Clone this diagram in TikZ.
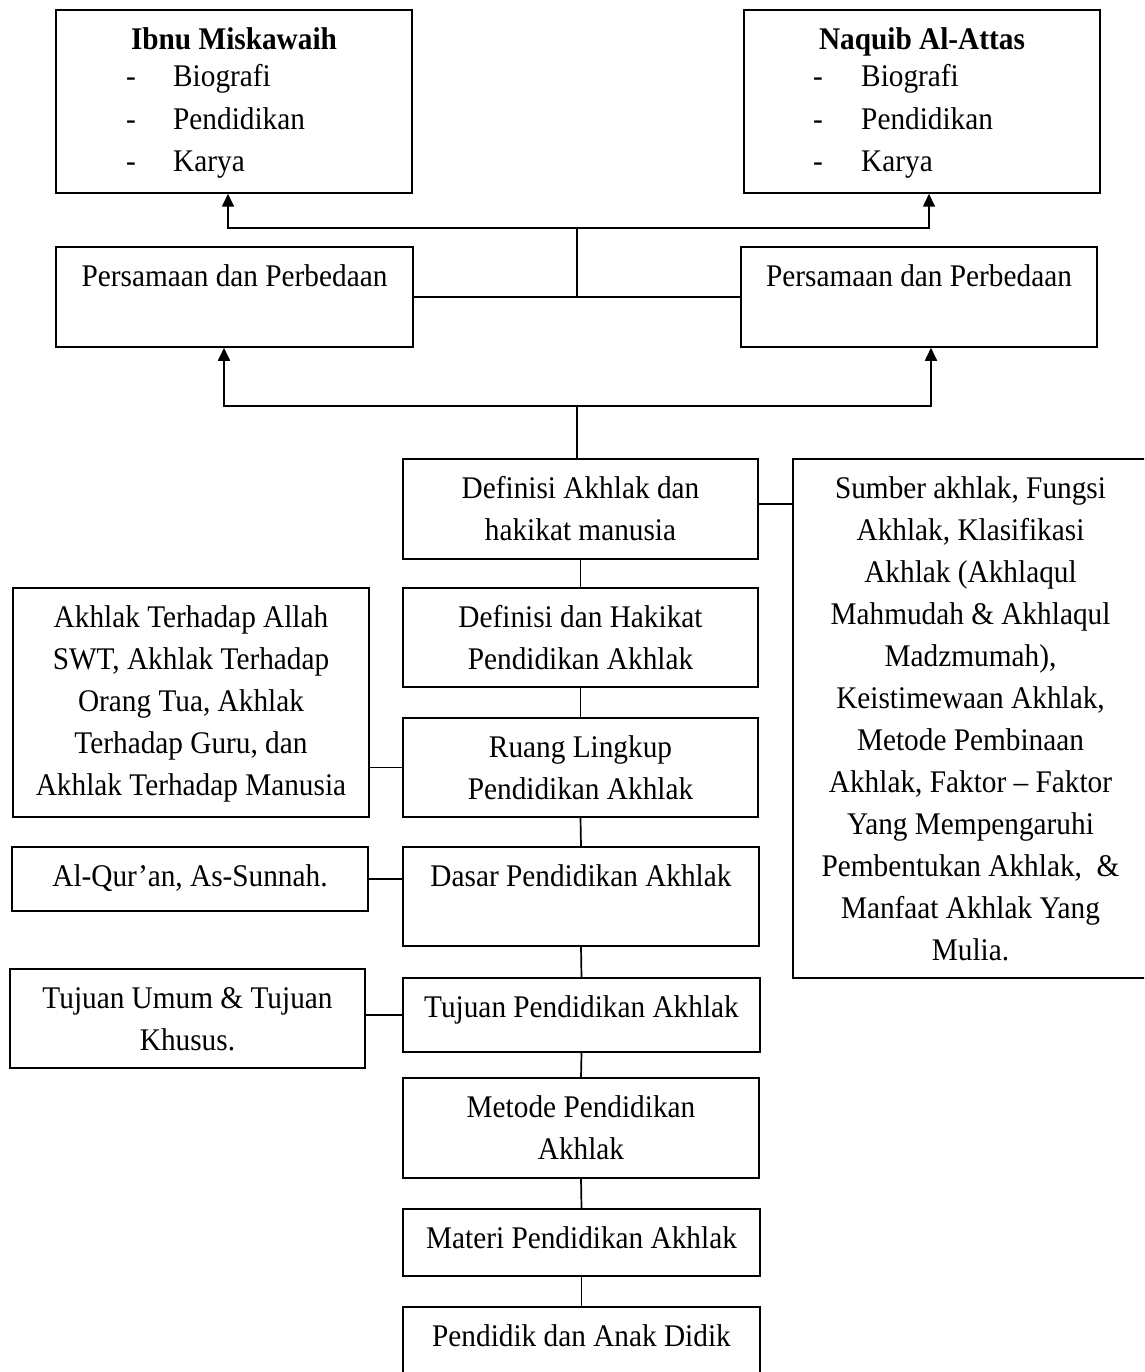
\documentclass[tikz,border=0pt]{standalone}
\usepackage{fontspec}
\setmainfont{Liberation Serif}[FakeStretch=0.93]
\usetikzlibrary{arrows.meta}
\newcommand{\myfs}{\fontsize{31.5}{42}\selectfont}
\newcommand{\fl}{\rule{0pt}{30pt}}
\begin{document}
\begin{tikzpicture}[x=1pt,y=-1pt,
  box/.style={draw=black, line width=1.5pt, inner sep=0pt},
  txt/.style={anchor=north, inner sep=0pt, align=center, font=\myfs},
  item/.style={anchor=base west, inner sep=0pt, font=\myfs},
  conn/.style={draw=black, line width=1.7pt},
  arr/.style={conn, -{Triangle[width=12pt,length=13pt]}}]
\useasboundingbox (0,0) rectangle (1144,1372);
\clip (0,0) rectangle (1144,1372);

% ---- boxes
\node[box, minimum width=356pt, minimum height=183pt] (im) at (234,101.5) {};
\node[box, minimum width=356pt, minimum height=183pt] (na) at (922,101.5) {};
\node[box, minimum width=357pt, minimum height=100pt] (ppl) at (234.5,297) {};
\node[box, minimum width=356pt, minimum height=100pt] (ppr) at (919,297) {};
\node[box, minimum width=355pt, minimum height=100pt] (def) at (580.5,509) {};
\node[box, minimum width=355pt, minimum height=519pt] (sum) at (970.5,718.5) {};
\node[box, minimum width=355pt, minimum height=99pt] (dh) at (580.5,637.5) {};
\node[box, minimum width=355pt, minimum height=99pt] (ruang) at (580.5,767.5) {};
\node[box, minimum width=356pt, minimum height=99pt] (dasar) at (581,896.5) {};
\node[box, minimum width=357pt, minimum height=74pt] (tujuan) at (581.5,1015) {};
\node[box, minimum width=356pt, minimum height=100pt] (metode) at (581,1128) {};
\node[box, minimum width=357pt, minimum height=67pt] (materi) at (581.5,1242.5) {};
\node[box, minimum width=357pt, minimum height=73pt] (pend) at (581.5,1343.5) {};
\node[box, minimum width=356pt, minimum height=229pt] (at) at (191,702.5) {};
\node[box, minimum width=356pt, minimum height=64pt] (alq) at (190,879) {};
\node[box, minimum width=355pt, minimum height=99pt] (tujl) at (187.5,1018.5) {};

% ---- texts
\node[txt] (imT) at ([yshift=-10pt]im.north) {\fl\bfseries Ibnu Miskawaih};
\node[item] (imd1) at (126,87) {-};
\node[item] (imd2) at (126,130) {-};
\node[item] (imd3) at (126,172) {-};
\node[item] (im1) at (173,87) {Biografi};
\node[item] (im2) at (173,130) {Pendidikan};
\node[item] (im3) at (173,172) {Karya};

\node[txt] (naT) at ([yshift=-10pt]na.north) {\fl\bfseries Naquib Al-Attas};
\node[item] (nad1) at (813,87) {-};
\node[item] (nad2) at (813,130) {-};
\node[item] (nad3) at (813,172) {-};
\node[item] (na1) at (861,87) {Biografi};
\node[item] (na2) at (861,130) {Pendidikan};
\node[item] (na3) at (861,172) {Karya};

\node[txt] (tppl) at ([yshift=-10pt]ppl.north) {\fl Persamaan dan Perbedaan};
\node[txt] (tppr) at ([yshift=-10pt]ppr.north) {\fl Persamaan dan Perbedaan};
\node[txt] (tdef) at ([yshift=-10pt]def.north) {\fl Definisi Akhlak dan\\hakikat manusia};
\node[txt] (tsum) at ([yshift=-10pt]sum.north) {\fl Sumber akhlak, Fungsi\\Akhlak, Klasifikasi\\Akhlak (Akhlaqul\\Mahmudah \& Akhlaqul\\Madzmumah),\\Keistimewaan Akhlak,\\Metode Pembinaan\\Akhlak, Faktor – Faktor\\Yang Mempengaruhi\\Pembentukan Akhlak,~ \&\\Manfaat Akhlak Yang\\Mulia.};
\node[txt] (tdh) at ([yshift=-10pt]dh.north) {\fl Definisi dan Hakikat\\Pendidikan Akhlak};
\node[txt] (truang) at ([yshift=-10pt]ruang.north) {\fl Ruang Lingkup\\Pendidikan Akhlak};
\node[txt] (tdasar) at ([yshift=-10pt]dasar.north) {\fl Dasar Pendidikan Akhlak};
\node[txt] (ttujuan) at ([yshift=-10pt]tujuan.north) {\fl Tujuan Pendidikan Akhlak};
\node[txt] (tmetode) at ([yshift=-10pt]metode.north) {\fl Metode Pendidikan\\Akhlak};
\node[txt] (tmateri) at ([yshift=-10pt]materi.north) {\fl Materi Pendidikan Akhlak};
\node[txt] (tpend) at ([yshift=-10pt]pend.north) {\fl Pendidik dan Anak Didik};
\node[txt] (tat) at ([yshift=-10pt]at.north) {\fl Akhlak Terhadap Allah\\SWT, Akhlak Terhadap\\Orang Tua, Akhlak\\Terhadap Guru, dan\\Akhlak Terhadap Manusia};
\node[txt] (talq) at ([yshift=-10pt]alq.north) {\fl Al-Qur’an, As-Sunnah.};
\node[txt] (ttujl) at ([yshift=-10pt]tujl.north) {\fl Tujuan Umum \& Tujuan\\Khusus.};

% ---- junctions
\coordinate (jt) at (577,228);
\coordinate (jm) at (577,297);
\coordinate (jb) at (577,406);

% ---- connectors (top)
\draw[conn] (ppl.east) -- (ppr.west);
\draw[conn] (jm) -- (jt);
\draw[arr] (jt) -| ([xshift=-6pt]im.south);
\draw[arr] (jt) -| ([xshift=7pt]na.south);
\draw[conn] (jb |- def.north) -- (jb);
\draw[arr] (jb) -| ([xshift=-10.5pt]ppl.south);
\draw[arr] (jb) -| ([xshift=12pt]ppr.south);

% ---- connectors (centre column)
\draw[conn] (def.south) -- (dh.north);
\draw[conn] (dh.south) -- (ruang.north);
\draw[conn] (ruang.south) -- (dasar.north);
\draw[conn] (dasar.south) -- (tujuan.north);
\draw[conn] (tujuan.south) -- (metode.north);
\draw[conn] (metode.south) -- (materi.north);
\draw[conn] (materi.south) -- (pend.north);

% ---- side connectors
\draw[conn] ([yshift=5pt]def.east) -- ([yshift=5pt]def.east -| sum.west);
\draw[conn] (ruang.west) -- (ruang.west -| at.east);
\draw[conn] (alq.east) -- (alq.east -| dasar.west);
\draw[conn] (tujuan.west) -- (tujuan.west -| tujl.east);
\end{tikzpicture}
\end{document}
